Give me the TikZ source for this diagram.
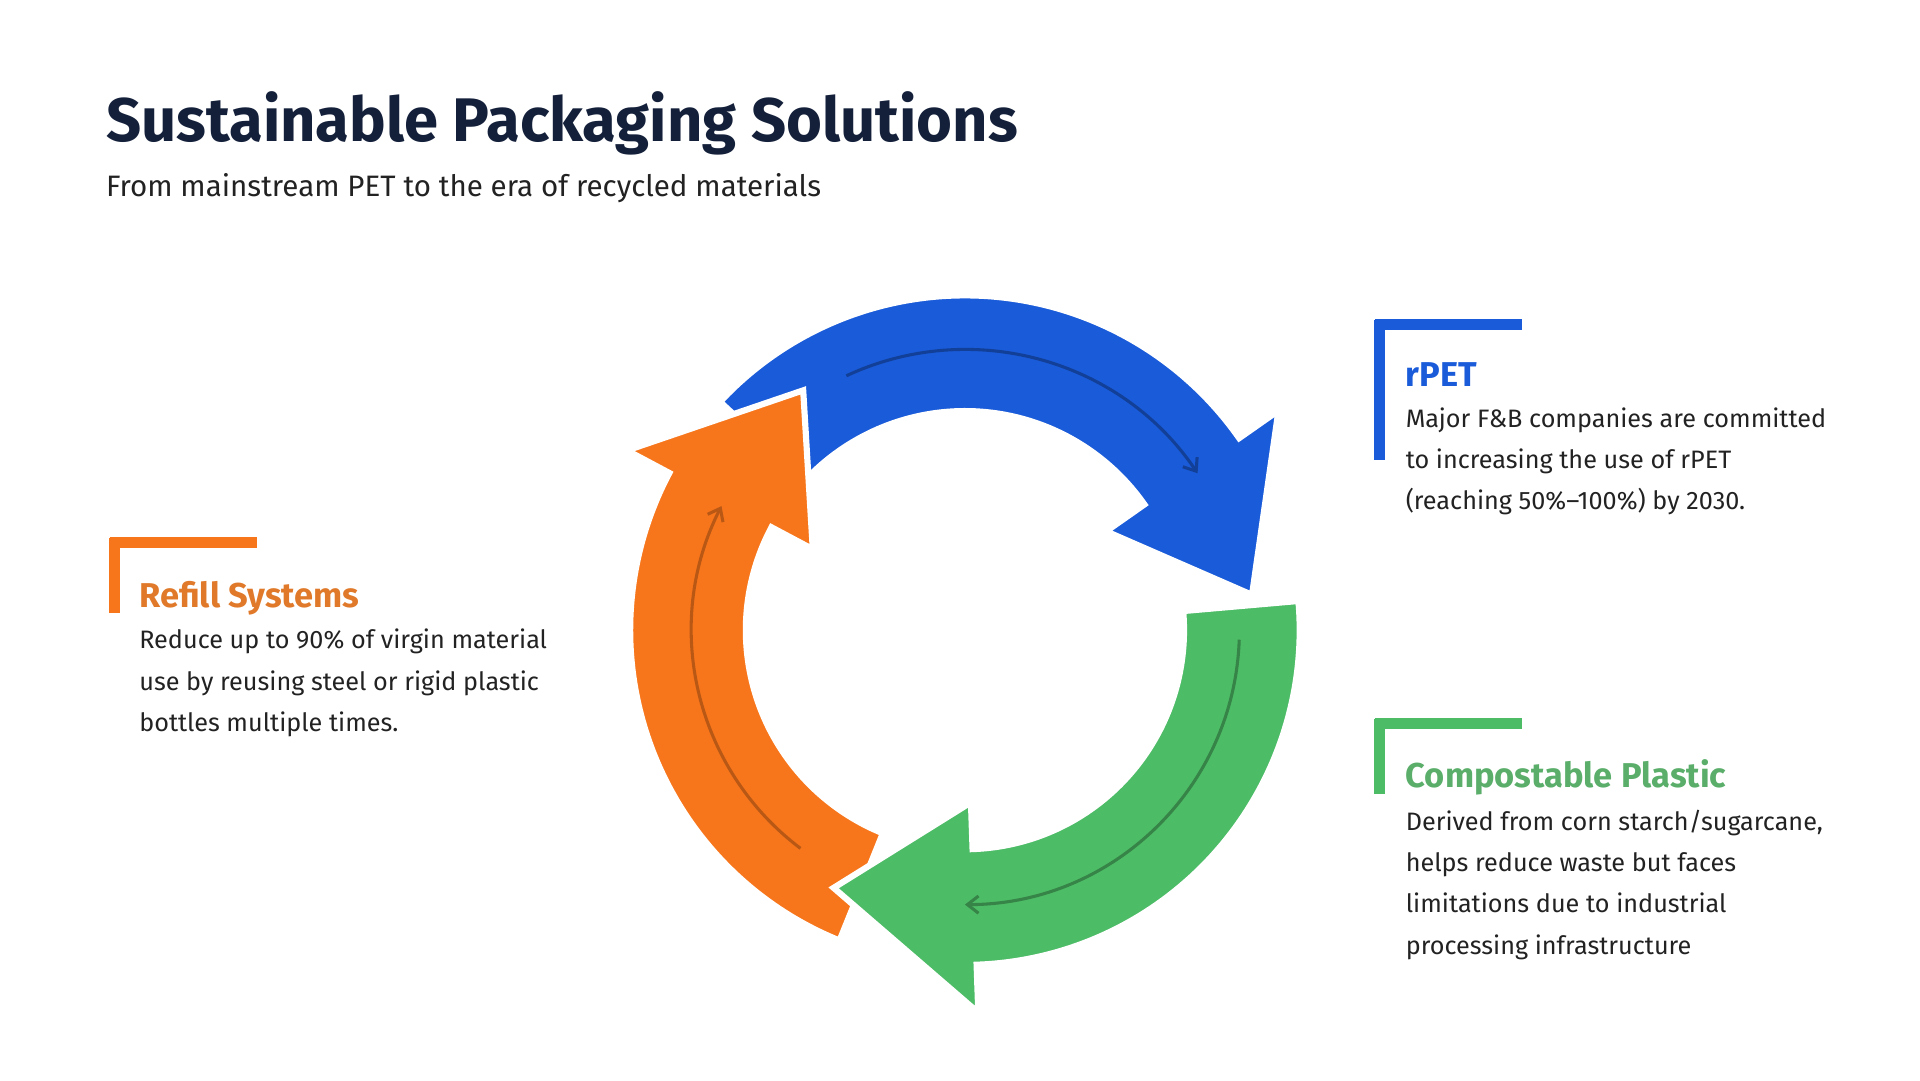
\documentclass[tikz,border=0pt]{standalone}
\usepackage{fontspec}
\setmainfont{Fira Sans}
\usetikzlibrary{arrows.meta,positioning}
\definecolor{cblue}{HTML}{1A5BD9}
\definecolor{cgreen}{HTML}{4DBC66}
\definecolor{corange}{HTML}{F7761C}
\definecolor{navy}{HTML}{14203A}
\definecolor{ink}{HTML}{222222}
\definecolor{hgreen}{HTML}{5AAE6A}
\definecolor{horange}{HTML}{E07A2A}
% band arrow: colour, start angle, head base angle, tip angle
\newcommand{\cyclearrow}[4]{%
  \fill[#1,draw=white,line width=5pt,line join=miter] (#2:272) arc[start angle=#2,end angle=#3,radius=272]
    -- (#3:311) -- (#4:235) -- (#3:140) -- (#3:178)
    arc[start angle=#3,end angle=#2,radius=178] -- cycle;}
\begin{document}
\begin{tikzpicture}[x=1pt,y=1pt,
  title/.style={anchor=west,inner sep=0pt,font=\fontsize{50}{60}\selectfont\bfseries,text=navy},
  sub/.style={anchor=west,inner sep=0pt,font=\fontsize{24}{30}\selectfont,text=ink},
  head/.style={anchor=west,inner sep=0pt,font=\fontsize{28}{34}\selectfont\bfseries},
  body/.style={anchor=north west,inner sep=0pt,align=left,text=ink,
    font=\fontsize{20.5}{33.5}\selectfont},
  bracket/.style={line width=9pt,line cap=butt},
  inner/.style={line width=2.5pt,-{Straight Barb[length=9pt,width=14pt]}}]
\useasboundingbox (0,0) rectangle (1560,878);
\node[title] (t) at (86,778) {Sustainable Packaging Solutions};
\node[sub] (s) at (86,725) {From mainstream PET to the era of recycled materials};
% cycle
\begin{scope}[shift={(784,366)}]
  \cyclearrow{cblue}{137}{35}{7}
  \cyclearrow{corange}{-112}{-208}{-236}
  \cyclearrow{cgreen}{5}{-88}{-117}
  \draw[inner,cblue!70!black] (115:228) arc[start angle=115,end angle=34,radius=228];
  \draw[inner,cgreen!70!black] (-2:223) arc[start angle=-2,end angle=-90,radius=223];
  \draw[inner,corange!75!black] (-127:222) arc[start angle=-127,end angle=-207,radius=222];
\end{scope}
% rPET
\coordinate (b1) at (1121,557);
\draw[bracket,cblue] (1121,561) -- ++(0,-57) (1117,614) -- (1237,614) (1121,618) -- (b1);
\node[head,text=cblue] (h1) at (1142,574) {rPET};
\node[body] (d1) at (1142,547) {Major F\&B companies are committed\\to increasing the use of rPET\\(reaching 50\%–100\%) by 2030.};
% compostable
\draw[bracket,cgreen] (1121,294) -- (1121,233) (1117,290) -- (1237,290);
\node[head,text=hgreen] (h2) at (1142,246) {Compostable Plastic};
\node[body] (d2) at (1142,220) {Derived from corn starch/sugarcane,\\helps reduce waste but faces\\limitations due to industrial\\processing infrastructure};
% refill
\draw[bracket,corange] (93,441) -- (93,380) (89,437) -- (209,437);
\node[head,text=horange] (h3) at (113,392) {Refill Systems};
\node[body] (d3) at (113,367) {Reduce up to 90\% of virgin material\\use by reusing steel or rigid plastic\\bottles multiple times.};
\end{tikzpicture}
\end{document}
